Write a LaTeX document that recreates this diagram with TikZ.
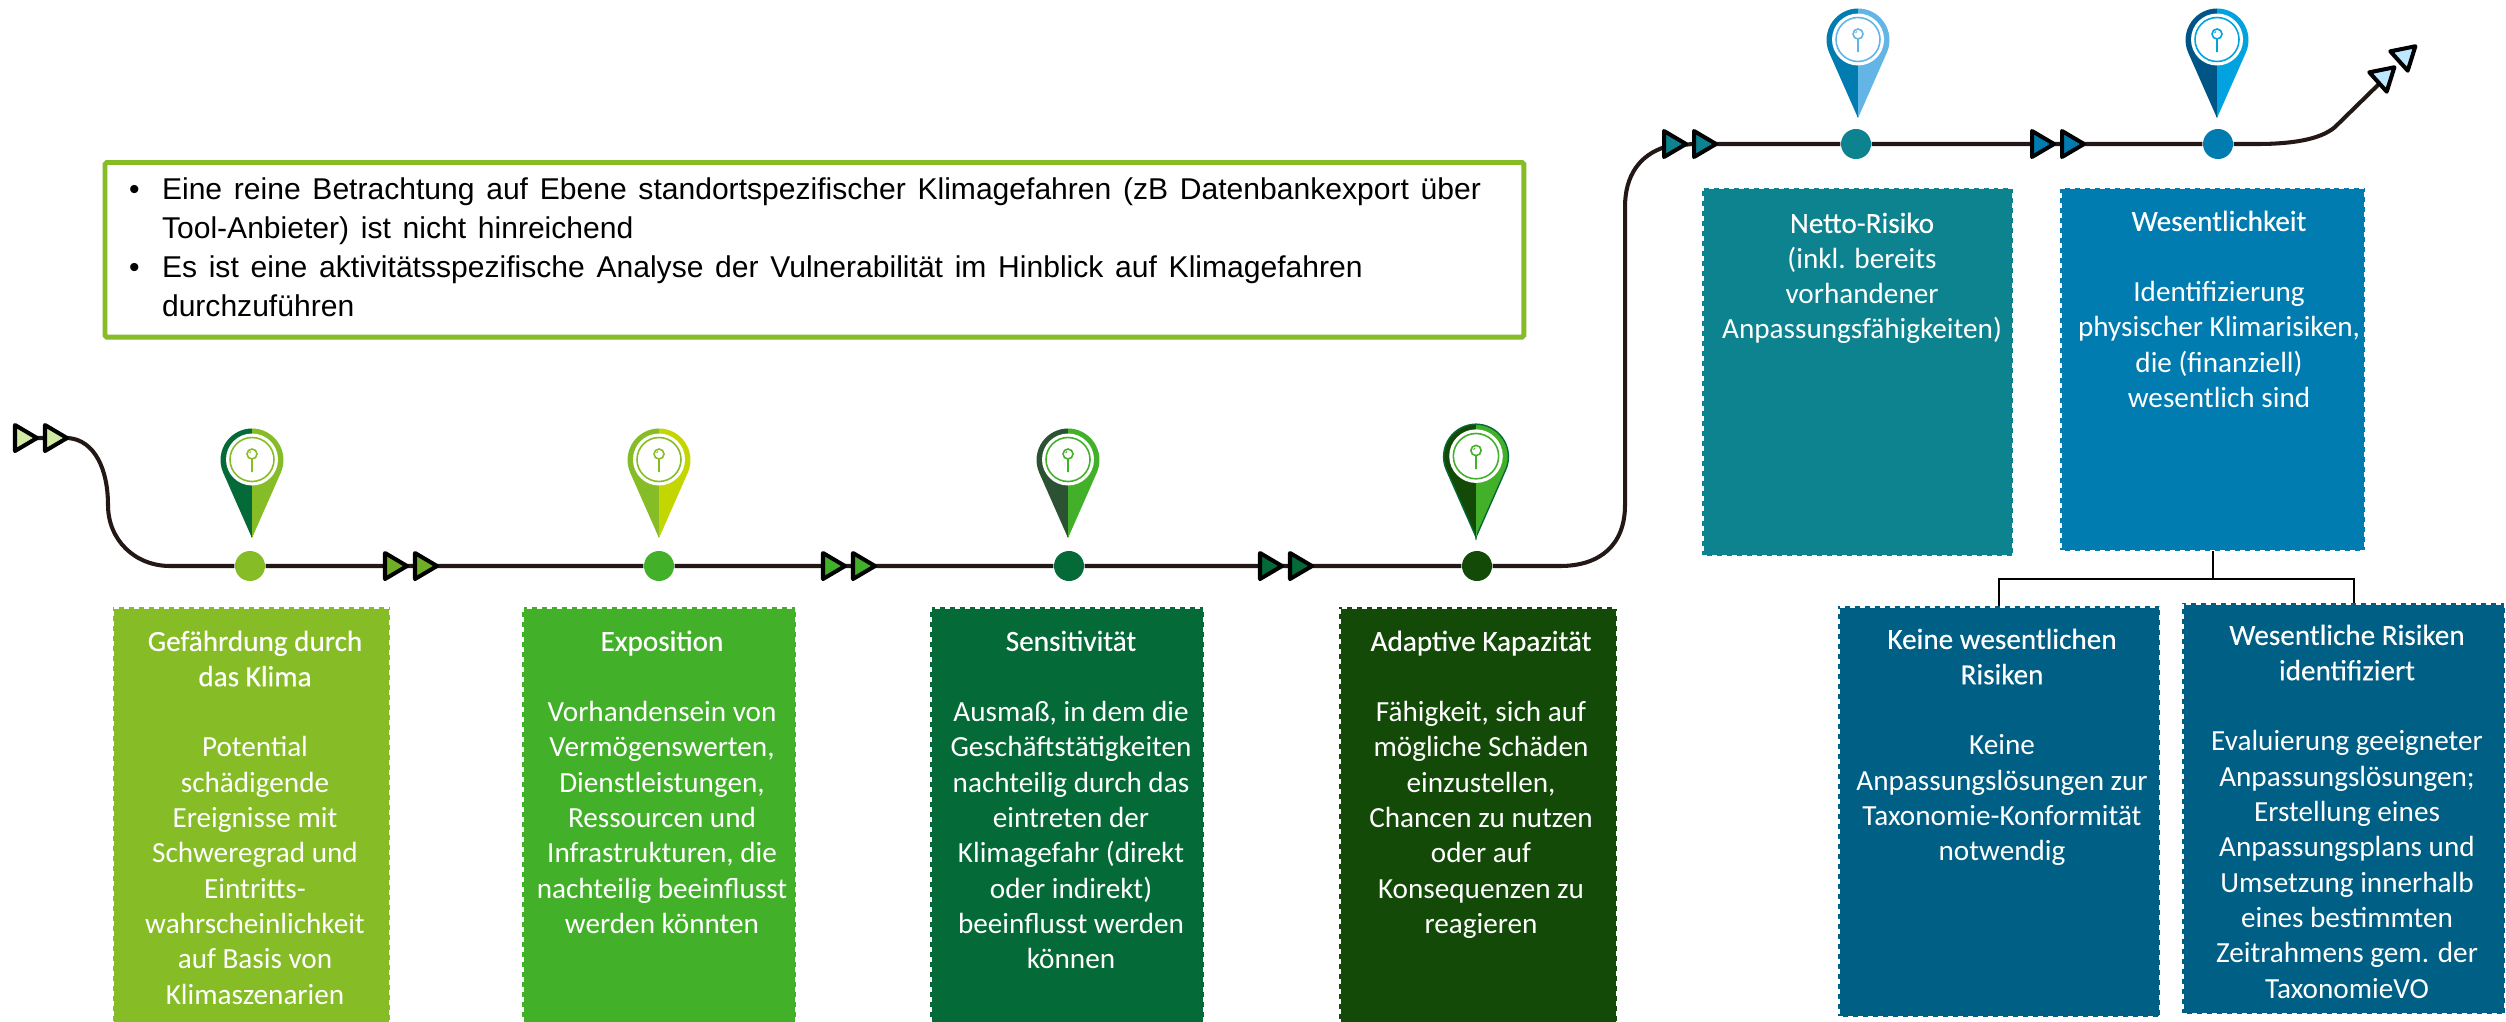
\documentclass[tikz,border=0pt]{standalone}
\usepackage{fontspec}
\setmainfont{Carlito}
\newfontfamily\titlefont[FakeBold=0.3]{Carlito}
\newfontfamily\notefont[WordSpace=0.8]{Liberation Sans}
\usetikzlibrary{calc,positioning}
\pgfdeclarelayer{bg}
\pgfsetlayers{bg,main}

\definecolor{hazard}{HTML}{86BC25}
\definecolor{expo}{HTML}{43B02A}
\definecolor{sens}{HTML}{046A38}
\definecolor{adapt}{HTML}{134A07}
\definecolor{netto}{HTML}{0D8390}
\definecolor{mater}{HTML}{007CB0}
\definecolor{risk}{HTML}{005F85}
\definecolor{linedark}{HTML}{231815}
\definecolor{lime}{HTML}{C4D600}
\definecolor{moss}{HTML}{2C5234}
\definecolor{sky}{HTML}{62B5E5}
\definecolor{cyan}{HTML}{00A3E0}
\definecolor{navy}{HTML}{005587}
\definecolor{palegreen}{HTML}{D0EAA3}
\definecolor{midgreen}{HTML}{6FAE25}
\definecolor{paleblue}{HTML}{BDE8FF}

\newcommand\hd[1]{{\titlefont #1}}

\begin{document}
\begin{tikzpicture}[x=0.01cm,y=-0.01cm,
    stepbox/.style={rectangle,fill=#1,draw=white,line width=.85pt,dash pattern=on 1.42pt off 1.42pt,inner sep=0,outer sep=0,anchor=north west},
    boxtext/.style={text=white,align=center,inner sep=0,anchor=north,yshift=5.7pt,font=\fontsize{8.3}{10.04}\selectfont,execute at begin node={\rule{0pt}{7pt}}},
    stopdot/.style={circle,fill=#1,inner sep=0,minimum size=.3cm},
    timeline/.style={draw=linedark,line width=1.15pt},
    tipmark/.style={draw=black,line width=1.15pt,line join=round}]

  \useasboundingbox (0,0) rectangle (2506,1021);
  \clip (0,0) rectangle (2506,1021);

  %% Note on top
  \node[draw=hazard,line width=1.4pt,rounded corners=.5pt,anchor=north west,minimum height=1.745cm,text width=13.7cm,inner xsep=.24cm,inner ysep=0,align=left,outer sep=0] (note) at (105,162.5) {%
    \notefont\fontsize{8.55}{11.1}\selectfont
    \begin{tabular}{@{}p{.33cm}@{}l@{}}
      \textbullet & Eine reine Betrachtung auf Ebene standortspezifischer Klimagefahren (zB Datenbankexport über\\
      & Tool-Anbieter) ist nicht hinreichend\\
      \textbullet & Es ist eine aktivitätsspezifische Analyse der Vulnerabilität im Hinblick auf Klimagefahren\\
      & durchzuführen
    \end{tabular}};

  %% Boxes below the line
  \node[stepbox=hazard,minimum width=2.77cm,minimum height=4.6cm] (gef) at (113,607) {};
  \node[stepbox=expo,minimum width=2.74cm,minimum height=4.6cm] (exp) at (522,607) {};
  \node[stepbox=sens,minimum width=2.74cm,minimum height=4.6cm] (sen) at (930,607) {};
  \node[stepbox=adapt,minimum width=2.78cm,minimum height=4.6cm] (kap) at (1339,607) {};
  \node[stepbox=netto,minimum width=3.11cm,minimum height=3.68cm] (net) at (1702,188) {};
  \node[stepbox=mater,minimum width=3.05cm,minimum height=3.63cm] (wes) at (2060,188) {};
  \node[stepbox=risk,minimum width=3.22cm,minimum height=4.11cm] (kei) at (1838,606) {};
  \node[stepbox=risk,minimum width=3.23cm,minimum height=4.11cm] (ide) at (2182,603) {};

  %% Texts, first baseline at the coordinate
  \node[boxtext] at (255,650) {\hd{Gefährdung durch}\\\hd{das Klima}\\\mbox{}\\Potential\\schädigende\\Ereignisse mit\\Schweregrad und\\Eintritts-\\wahrscheinlichkeit\\auf Basis von\\Klimaszenarien};
  \node[boxtext] at (662,650) {\hd{Exposition}\\\mbox{}\\Vorhandensein von\\Vermögenswerten,\\Dienstleistungen,\\Ressourcen und\\Infrastrukturen, die\\nachteilig beeinflusst\\werden könnten};
  \node[boxtext] at (1071,650) {\hd{Sensitivität}\\\mbox{}\\Ausmaß, in dem die\\Geschäftstätigkeiten\\nachteilig durch das\\eintreten der\\Klimagefahr (direkt\\oder indirekt)\\beeinflusst werden\\können};
  \node[boxtext] at (1481,650) {\hd{Adaptive Kapazität}\\\mbox{}\\Fähigkeit, sich auf\\mögliche Schäden\\einzustellen,\\Chancen zu nutzen\\oder auf\\Konsequenzen zu\\reagieren};
  \node[boxtext] at (1862,232) {\hd{Netto-Risiko}\\(inkl. bereits\\vorhandener\\Anpassungsfähigkeiten)};
  \node[boxtext] at (2219,230) {\hd{Wesentlichkeit}\\\mbox{}\\Identifizierung\\physischer Klimarisiken,\\die (finanziell)\\wesentlich sind};
  \node[boxtext] at (2002,648) {\hd{Keine wesentlichen}\\\hd{Risiken}\\\mbox{}\\Keine\\Anpassungslösungen zur\\Taxonomie-Konformität\\notwendig};
  \node[boxtext] at (2347,644) {\hd{Wesentliche Risiken}\\\hd{identifiziert}\\\mbox{}\\Evaluierung geeigneter\\Anpassungslösungen;\\Erstellung eines\\Anpassungsplans und\\Umsetzung innerhalb\\eines bestimmten\\Zeitrahmens gem. der\\TaxonomieVO};

  %% Stops on the line
  \foreach \name/\x/\y/\c in {s1/250/566/hazard,s2/659/566/expo,s3/1069/566/sens,s4/1477/566/adapt,s5/1856/144/netto,s6/2218/144/mater}{
    \node[stopdot=\c] (\name) at (\x,\y) {};
  }

  %% Pins
  \foreach \x/\y/\l/\r/\o/\k/\e in {252/538/sens/hazard/hazard/1/none,659/538/hazard/lime/hazard/1/none,1068/538/moss/expo/expo/1/none,1476/537/adapt/expo/expo/1.03/sens,1858/118/mater/sky/sky/1/none,2217/118/navy/cyan/cyan/1/none}{
    \begin{scope}[shift={(\x,\y)},scale=\k]
      \filldraw[draw=\e,fill=\l,line width=.4pt] (0,0) -- (-28.8,-65.3) arc (156.2:270:31.5) -- cycle;
      \filldraw[draw=\e,fill=\r,line width=.4pt] (0,0) -- (28.8,-65.3) arc (23.8:-90:31.5) -- cycle;
      \fill[\l] (-1,-1) rectangle (0,-109);
      \fill[\r] (0,-1) rectangle (1,-109);
      \fill[white] (0,-78.5) circle (26);
      \draw[\o,line width=.45pt] (0,-78.5) circle (22);
      \draw[\o,line width=.45pt] (0,-84) circle (5) (0,-79) -- (0,-66);
      \draw[\o,line width=.25pt] (-2.5,-85) -- (-1,-86.5);
    \end{scope}
  }

  %% Line, behind the stops
  \begin{pgfonlayer}{bg}
    \coordinate (begin) at (15,438);
    \coordinate (bend) at (1625,400);
    \coordinate (end) at (2380,83);
    \draw[timeline] (begin) -- (68,438) .. controls (95,440) and (108,470) .. (108,505)
      .. controls (108,540) and (135,566) .. (170,566) -- (s1) -- (s2) -- (s3) -- (s4)
      -- (1560,566) .. controls (1600,566) and (1625,545) .. (1625,505) -- (bend)
      -- (1625,207) .. controls (1625,175) and (1640,155) .. (1665,147) -- (1692,144)
      -- (s5) -- (s6) -- (2257,144) .. controls (2290,144) and (2320,140) .. (2335,127) -- (end);
  \end{pgfonlayer}

  %% Double marks on the line
  \foreach \x/\y/\a/\c in {15/438/0/palegreen,45/438/0/palegreen,385/566/0/midgreen,415/566/0/midgreen,823/566/0/expo,853/566/0/expo,1260/566/0/sens,1290/566/0/sens,1664/144/0/netto,1694/144/0/netto,2032/144/0/mater,2062/144/0/mater,2378/82/42/paleblue,2399/61/42/paleblue}{
    \draw[tipmark,fill=\c,shift={(\x,\y)},rotate=\a] (0,-13) -- (22,0) -- (0,13) -- cycle;
  }

  %% Fork to the two result boxes
  \draw[line width=.6pt] (wes.south) -- ++(0,28) coordinate (fork);
  \draw[line width=.6pt] (kei.north) |- (fork) -| ([xshift=.1cm]ide.north);

\end{tikzpicture}
\end{document}
